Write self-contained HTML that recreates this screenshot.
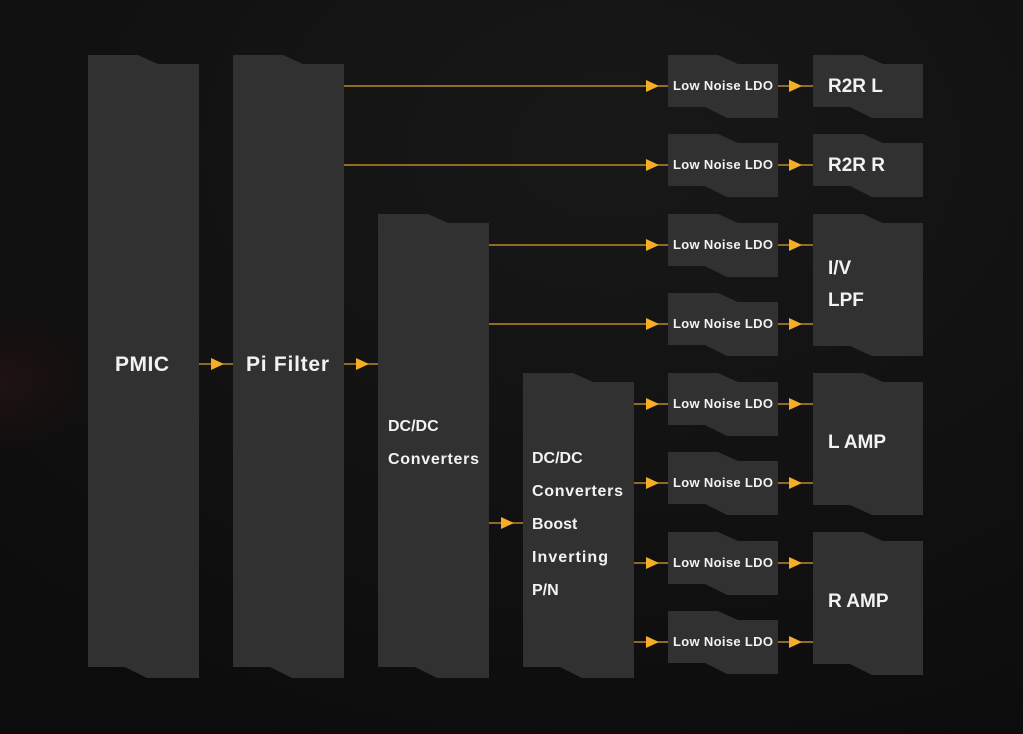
<!DOCTYPE html>
<html><head><meta charset="utf-8"><style>
html,body{margin:0;padding:0;width:1023px;height:734px;overflow:hidden;background:#0f1010}
svg{display:block}
text{font-family:"Liberation Sans",sans-serif;font-weight:bold;fill:#f2f2f2}
</style></head><body>
<svg width="1023" height="734" viewBox="0 0 1023 734" xmlns="http://www.w3.org/2000/svg">
<defs>
<radialGradient id="bg" cx="0.6" cy="0.2" r="0.9">
<stop offset="0" stop-color="#181818"/><stop offset="1" stop-color="#0c0c0c"/>
</radialGradient>
<radialGradient id="red" cx="0" cy="0.52" r="0.1">
<stop offset="0" stop-color="#1f1212"/><stop offset="1" stop-color="#1f1212" stop-opacity="0"/>
</radialGradient>
</defs>
<rect width="1023" height="734" fill="url(#bg)"/>
<rect width="1023" height="734" fill="url(#red)"/>
<g fill="#313131">
<path d="M88,55H138L158,64H199V678H147L125,667H88Z"/>
<path d="M233,55H283L303,64H344V678H292L270,667H233Z"/>
<path d="M378,214H428L448,223H489V678H437L415,667H378Z"/>
<path d="M523,373H573L593,382H634V678H582L560,667H523Z"/>
<path d="M813,55H863L883,64H923V118H872L850,107H813Z"/>
<path d="M813,134H863L883,143H923V197H872L850,186H813Z"/>
<path d="M813,214H863L883,223H923V356H872L850,346H813Z"/>
<path d="M813,373H863L883,382H923V515H872L850,505H813Z"/>
<path d="M813,532H863L883,541H923V675H872L850,664H813Z"/>
</g>
<g fill="#313131">
<path d="M668,55H718L738,64H778V118H727L705,107H668Z"/>
<path d="M668,134H718L738,143H778V197H727L705,186H668Z"/>
<path d="M668,214H718L738,223H778V277H727L705,266H668Z"/>
<path d="M668,293H718L738,302H778V356H727L705,345H668Z"/>
<path d="M668,373H718L738,382H778V436H727L705,425H668Z"/>
<path d="M668,452H718L738,461H778V515H727L705,504H668Z"/>
<path d="M668,532H718L738,541H778V595H727L705,584H668Z"/>
<path d="M668,611H718L738,620H778V674H727L705,663H668Z"/>
</g>
<g stroke="#b8882a" stroke-width="1.5">
<line x1="344" y1="86" x2="668" y2="86"/>
<line x1="344" y1="165" x2="668" y2="165"/>
<line x1="489" y1="245" x2="668" y2="245"/>
<line x1="489" y1="324" x2="668" y2="324"/>
<line x1="634" y1="404" x2="668" y2="404"/>
<line x1="634" y1="483" x2="668" y2="483"/>
<line x1="634" y1="563" x2="668" y2="563"/>
<line x1="634" y1="642" x2="668" y2="642"/>
<line x1="778" y1="86" x2="813" y2="86"/>
<line x1="778" y1="165" x2="813" y2="165"/>
<line x1="778" y1="245" x2="813" y2="245"/>
<line x1="778" y1="324" x2="813" y2="324"/>
<line x1="778" y1="404" x2="813" y2="404"/>
<line x1="778" y1="483" x2="813" y2="483"/>
<line x1="778" y1="563" x2="813" y2="563"/>
<line x1="778" y1="642" x2="813" y2="642"/>
<line x1="199" y1="364" x2="233" y2="364"/>
<line x1="344" y1="364" x2="378" y2="364"/>
<line x1="489" y1="523" x2="523" y2="523"/>
</g>
<g fill="#f5ae25">
<path d="M646,80L659,86L646,92Z"/><path d="M646,159L659,165L646,171Z"/>
<path d="M646,239L659,245L646,251Z"/><path d="M646,318L659,324L646,330Z"/>
<path d="M646,398L659,404L646,410Z"/><path d="M646,477L659,483L646,489Z"/>
<path d="M646,557L659,563L646,569Z"/><path d="M646,636L659,642L646,648Z"/>
<path d="M789,80L802,86L789,92Z"/><path d="M789,159L802,165L789,171Z"/>
<path d="M789,239L802,245L789,251Z"/><path d="M789,318L802,324L789,330Z"/>
<path d="M789,398L802,404L789,410Z"/><path d="M789,477L802,483L789,489Z"/>
<path d="M789,557L802,563L789,569Z"/><path d="M789,636L802,642L789,648Z"/>
<path d="M211,358L224,364L211,370Z"/><path d="M356,358L369,364L356,370Z"/>
<path d="M501,517L514,523L501,529Z"/>
</g>
<g font-size="13" textLength="100">
<text x="673" y="90" textLength="100">Low Noise LDO</text><text x="673" y="169" textLength="100">Low Noise LDO</text>
<text x="673" y="249" textLength="100">Low Noise LDO</text><text x="673" y="328" textLength="100">Low Noise LDO</text>
<text x="673" y="408" textLength="100">Low Noise LDO</text><text x="673" y="487" textLength="100">Low Noise LDO</text>
<text x="673" y="567" textLength="100">Low Noise LDO</text><text x="673" y="646" textLength="100">Low Noise LDO</text>
</g>
<g font-size="19">
<text x="828" y="92">R2R L</text><text x="828" y="171">R2R R</text>
<text x="828" y="274">I/V</text><text x="828" y="306">LPF</text>
<text x="828" y="448">L AMP</text><text x="828" y="607">R AMP</text>
</g>
<g font-size="21"><text x="115" y="371" textLength="54">PMIC</text><text x="246" y="371" textLength="83">Pi Filter</text></g>
<g font-size="16">
<text x="388" y="431">DC/DC</text><text x="388" y="464" textLength="91">Converters</text>
<text x="532" y="463">DC/DC</text><text x="532" y="496" textLength="91">Converters</text>
<text x="532" y="529">Boost</text><text x="532" y="562" textLength="76">Inverting</text><text x="532" y="595">P/N</text>
</g>
</svg>
</body></html>
